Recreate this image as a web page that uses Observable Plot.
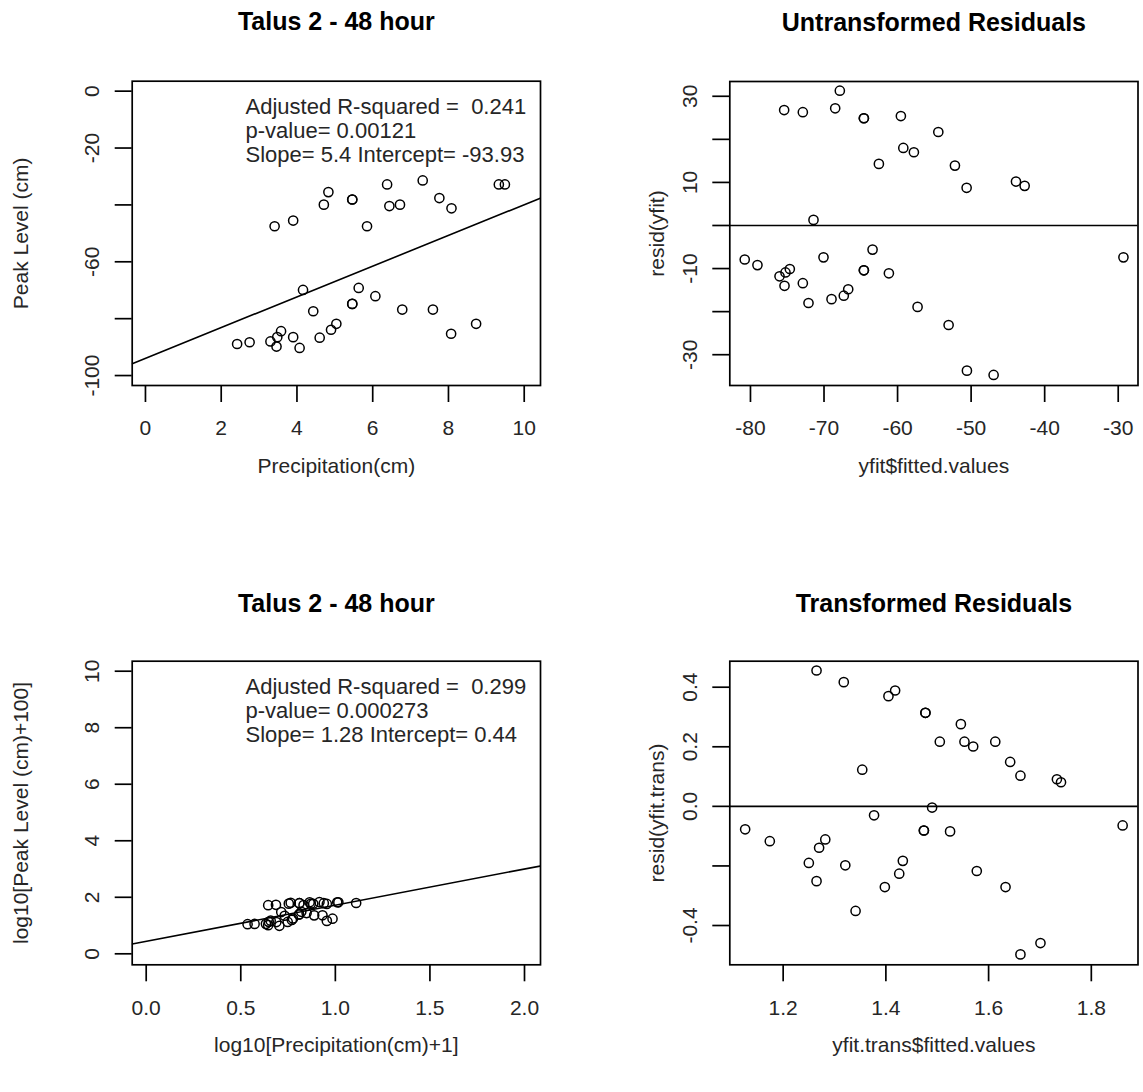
<!DOCTYPE html>
<html><head><meta charset="utf-8">
<script src="https://cdn.jsdelivr.net/npm/d3@7"></script>
<script src="https://cdn.jsdelivr.net/npm/@observablehq/plot@0.6"></script>
<style>
body{margin:0;background:#fff;}
#root{position:relative;width:1143px;height:1092px;overflow:hidden;background:#fff;}
#root svg{position:absolute;max-width:none;}
</style></head><body><div id="root"></div>
<script>
// ---------- Panel 1 data: Talus 2 - 48 hour ----------
const precipitation = [3.41, 3.90, 4.71, 4.83, 5.46, 5.46, 5.85, 6.38, 6.44, 6.72, 7.32, 7.76, 8.08, 9.33, 9.49,
  4.16, 4.43, 5.63, 5.46, 5.46, 6.07, 6.78, 7.59, 8.73, 8.07, 2.42, 2.75, 3.30, 3.46, 3.58, 3.48, 3.90, 4.07, 4.60, 4.90, 5.04, 11.97];
const peakLevel = [-47.5, -45.5, -39.9, -35.5, -38.1, -38.1, -47.5, -32.8, -40.4, -39.9, -31.4, -37.6, -41.2, -32.8, -32.8,
  -69.9, -77.4, -69.2, -74.8, -74.8, -72.1, -76.8, -76.8, -81.8, -85.3, -88.9, -88.3, -88.0, -89.8, -84.4, -86.5, -86.5, -90.3, -86.7, -83.9, -81.8, -36.7];
const untransCoef = {intercept: -93.93, slope: 5.4};
const untransStats = ["Adjusted R-squared =  0.241", "p-value= 0.00121", "Slope= 5.4 Intercept= -93.93"];

// ---------- Panel 2 data: Untransformed Residuals ----------
const fittedUntrans = [-67.85, -75.42, -72.88, -68.48, -64.58, -64.58, -59.55, -54.46, -59.22, -57.78, -62.54, -52.20, -50.61, -43.90, -42.72, -71.43,
  -80.78, -79.05, -76.05, -74.65, -75.24, -75.37, -72.88, -72.11, -70.07, -68.98, -67.31, -66.71, -64.58, -64.58, -63.40, -61.18, -57.28, -53.06, -50.57, -46.94, -29.29];
const residUntrans = [31.3, 26.8, 26.3, 27.2, 24.9, 24.9, 25.4, 21.7, 18.0, 17.0, 14.3, 13.9, 8.75, 10.2, 9.2, 1.3,
  -7.9, -9.2, -11.8, -10.1, -10.9, -14.0, -13.4, -18.0, -7.4, -17.1, -16.3, -14.8, -10.4, -10.4, -5.6, -11.1, -18.9, -23.1, -33.7, -34.7, -7.4];

// ---------- Panel 3 data: log-transformed ----------
const logPrecip = [0.645, 0.686, 0.754, 0.764, 0.810, 0.810, 0.864, 0.832, 0.870, 0.883, 0.916, 0.939, 0.955, 1.010, 1.016, 0.714, 0.820,
  0.536, 0.573, 0.658, 0.648, 0.633, 0.645, 0.688, 0.704, 0.732, 0.748, 0.770, 0.776, 0.808, 0.808, 0.848, 0.888, 0.932, 0.985, 0.955, 1.110];
const logPeak = [1.721, 1.735, 1.775, 1.807, 1.791, 1.791, 1.822, 1.722, 1.770, 1.771, 1.830, 1.791, 1.765, 1.824, 1.822, 1.477, 1.486,
  1.049, 1.057, 1.171, 1.131, 1.060, 1.014, 1.123, 0.990, 1.347, 1.127, 1.200, 1.250, 1.393, 1.393, 1.441, 1.360, 1.362, 1.242, 1.165, 1.797];
const transCoef = {intercept: 0.44, slope: 1.28};
const transStats = ["Adjusted R-squared =  0.299", "p-value= 0.000273", "Slope= 1.28 Intercept= 0.44"];

// ---------- Panel 4 data: Transformed Residuals ----------
const fittedTrans = [1.265, 1.318, 1.405, 1.418, 1.477, 1.477, 1.546, 1.505, 1.553, 1.570, 1.613, 1.642, 1.662, 1.733, 1.741, 1.354, 1.490,
  1.126, 1.174, 1.282, 1.270, 1.250, 1.265, 1.321, 1.341, 1.377, 1.398, 1.426, 1.433, 1.474, 1.474, 1.525, 1.577, 1.633, 1.701, 1.662, 1.861];
const residTrans = [0.456, 0.417, 0.370, 0.389, 0.314, 0.314, 0.276, 0.217, 0.217, 0.201, 0.217, 0.149, 0.103, 0.091, 0.081, 0.123, -0.004,
  -0.077, -0.117, -0.111, -0.139, -0.190, -0.251, -0.198, -0.351, -0.030, -0.271, -0.226, -0.183, -0.081, -0.081, -0.084, -0.217, -0.271, -0.459, -0.497, -0.064];

// ---------- tick values ----------
const p1XTicks = [0, 2, 4, 6, 8, 10];
const p1YTicks = [0, -20, -40, -60, -80, -100];
const p1YLabels = [0, -20, -60, -100];
const p2XTicks = [-80, -70, -60, -50, -40, -30];
const p2YTicks = [30, 20, 10, 0, -10, -20, -30];
const p2YLabels = [30, 10, -10, -30];
const p3XTicks = [0, 0.5, 1, 1.5, 2];
const p3YTicks = [0, 2, 4, 6, 8, 10];
const p3YLabels = [0, 2, 4, 6, 8, 10];
const p4XTicks = [1.2, 1.4, 1.6, 1.8];
const p4YTicks = [0.4, 0.2, 0, -0.2, -0.4];
const p4YLabels = [0.4, 0.2, 0, -0.4];
const residualBaseline = [0];

const FONT = '"Liberation Sans", Arial, sans-serif';
const TXT = "#262626";
const plain = d => String(d);
const one = d => d.toFixed(1);

function panel(cfg) {
  const pts = cfg.xs.map((x, i) => ({x, y: cfg.ys[i]}));
  const marks = [];
  if (cfg.coef) {
    const lineData = cfg.xDomain.map(x => ({x, y: cfg.coef.intercept + cfg.coef.slope * x}));
    marks.push(Plot.line(lineData, {x: "x", y: "y", stroke: "black", strokeWidth: 1.6, clip: true}));
  }
  if (cfg.baseline) marks.push(Plot.ruleY(cfg.baseline, {stroke: "black", strokeWidth: 1.6}));
  marks.push(
    Plot.dot(pts, {x: "x", y: "y", r: 4.6, stroke: "black", strokeWidth: 1.5, fill: "none", clip: true}),
    Plot.frame({stroke: "black", strokeWidth: 1.7}),
    Plot.axisX({ticks: cfg.xTicks, tickSize: 17, strokeWidth: 1.7, tickPadding: 18, tickFormat: cfg.xFmt, fontSize: 21, fill: TXT, label: null}),
    Plot.axisY({ticks: cfg.yTicks, tickSize: 17, strokeWidth: 1.7, fill: "none", tickFormat: cfg.yFmt, label: null}),
    Plot.axisY({ticks: cfg.yLabels, tickSize: 0, tickPadding: 33, tickRotate: -90, tickFormat: cfg.yFmt, fontSize: 21, fill: TXT, label: null}),
    Plot.text([cfg.title], {frameAnchor: "top", dy: cfg.titleDy, fontSize: 25, fontWeight: "bold", fill: "black", lineAnchor: "middle", textAnchor: "middle"}),
    Plot.text([cfg.xLabel], {frameAnchor: "bottom", dy: cfg.xLabelDy, fontSize: 21, fill: TXT, lineAnchor: "middle", textAnchor: "middle"}),
    Plot.text([cfg.yLabel], {frameAnchor: "left", dx: cfg.yLabelDx, rotate: -90, fontSize: 21, fill: TXT, lineAnchor: "middle", textAnchor: "middle"})
  );
  if (cfg.stats) {
    marks.push(Plot.text([cfg.stats.join("\n")], {frameAnchor: "top-left", dx: 113.3, dy: 15.6, textAnchor: "start", lineAnchor: "top", lineHeight: 24 / 22, fontSize: 22, fill: TXT}));
  }
  const svg = Plot.plot({
    width: cfg.w, height: cfg.h,
    marginLeft: cfg.m[0], marginRight: cfg.m[1], marginTop: cfg.m[2], marginBottom: cfg.m[3],
    x: {domain: cfg.xDomain},
    y: {domain: cfg.yDomain},
    style: {fontFamily: FONT, background: "transparent"},
    marks
  });
  svg.style.left = cfg.left + "px";
  svg.style.top = cfg.top + "px";
  document.getElementById("root").appendChild(svg);
}

panel({left: 0, top: 0, w: 571, h: 546, m: [131.7, 31, 80.7, 161],
  xs: precipitation, ys: peakLevel, coef: untransCoef, stats: untransStats,
  xDomain: [-0.35, 10.43], yDomain: [-103.5, 3.5],
  xTicks: p1XTicks, xFmt: plain, yTicks: p1YTicks, yLabels: p1YLabels, yFmt: plain,
  title: "Talus 2 - 48 hour", titleDy: -58.7, xLabel: "Precipitation(cm)", xLabelDy: 81,
  yLabel: "Peak Level (cm)", yLabelDx: -110.7});

panel({left: 571, top: 0, w: 572, h: 546, m: [158.3, 5.5, 81, 161],
  xs: fittedUntrans, ys: residUntrans, baseline: residualBaseline,
  xDomain: [-82.81, -27.31], yDomain: [-37.15, 33.43],
  xTicks: p2XTicks, xFmt: plain, yTicks: p2YTicks, yLabels: p2YLabels, yFmt: plain,
  title: "Untransformed Residuals", titleDy: -59, xLabel: "yfit$fitted.values", xLabelDy: 81,
  yLabel: "resid(yfit)", yLabelDx: -72.3});

panel({left: 0, top: 546, w: 571, h: 546, m: [131.7, 31, 114.7, 127.7],
  xs: logPrecip, ys: logPeak, coef: transCoef, stats: transStats,
  xDomain: [-0.074, 2.0846], yDomain: [-0.389, 10.354],
  xTicks: p3XTicks, xFmt: one, yTicks: p3YTicks, yLabels: p3YLabels, yFmt: plain,
  title: "Talus 2 - 48 hour", titleDy: -57.7, xLabel: "log10[Precipitation(cm)+1]", xLabelDy: 80.7,
  yLabel: "log10[Peak Level (cm)+100]", yLabelDx: -110.7});

panel({left: 571, top: 546, w: 572, h: 546, m: [158.3, 5.5, 114.7, 127.7],
  xs: fittedTrans, ys: residTrans, baseline: residualBaseline,
  xDomain: [1.0961, 1.8909], yDomain: [-0.5319, 0.4873],
  xTicks: p4XTicks, xFmt: one, yTicks: p4YTicks, yLabels: p4YLabels, yFmt: one,
  title: "Transformed Residuals", titleDy: -57.7, xLabel: "yfit.trans$fitted.values", xLabelDy: 80.7,
  yLabel: "resid(yfit.trans)", yLabelDx: -72.3});
</script>
</body></html>
